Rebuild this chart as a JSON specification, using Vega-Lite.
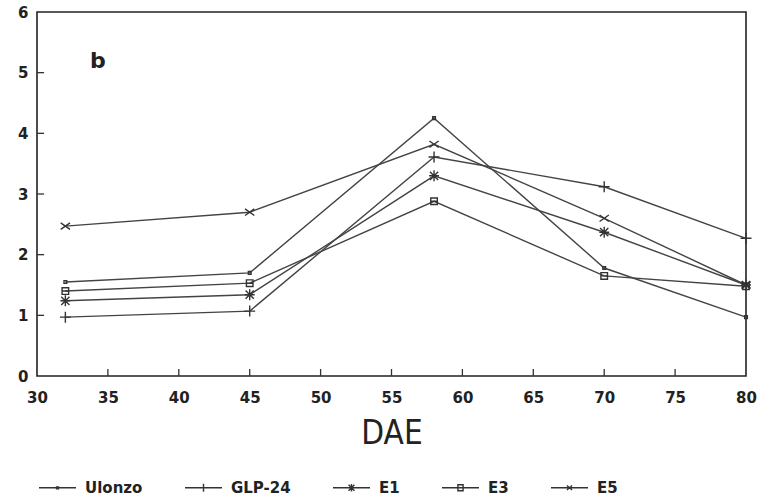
{
  "$schema": "https://vega.github.io/schema/vega-lite/v6.json",
  "width": 709,
  "height": 364,
  "autosize": "none",
  "padding": {"left": 37, "top": 12, "right": 20, "bottom": 122},
  "background": "white",
  "config": {
    "view": {"stroke": "#222", "strokeWidth": 1.6},
    "font": "DejaVu Sans"
  },
  "resolve": {
    "scale": {"shape": "independent"},
    "legend": {"shape": "independent"}
  },
  "datasets": {
    "series": [
      {"DAE": 32, "value": 1.55, "cultivar": "Ulonzo"},
      {"DAE": 45, "value": 1.70, "cultivar": "Ulonzo"},
      {"DAE": 58, "value": 4.25, "cultivar": "Ulonzo"},
      {"DAE": 70, "value": 1.78, "cultivar": "Ulonzo"},
      {"DAE": 80, "value": 0.97, "cultivar": "Ulonzo"},
      {"DAE": 32, "value": 0.97, "cultivar": "GLP-24"},
      {"DAE": 45, "value": 1.07, "cultivar": "GLP-24"},
      {"DAE": 58, "value": 3.61, "cultivar": "GLP-24"},
      {"DAE": 70, "value": 3.12, "cultivar": "GLP-24"},
      {"DAE": 80, "value": 2.27, "cultivar": "GLP-24"},
      {"DAE": 32, "value": 1.24, "cultivar": "E1"},
      {"DAE": 45, "value": 1.34, "cultivar": "E1"},
      {"DAE": 58, "value": 3.30, "cultivar": "E1"},
      {"DAE": 70, "value": 2.37, "cultivar": "E1"},
      {"DAE": 80, "value": 1.50, "cultivar": "E1"},
      {"DAE": 32, "value": 1.40, "cultivar": "E3"},
      {"DAE": 45, "value": 1.53, "cultivar": "E3"},
      {"DAE": 58, "value": 2.88, "cultivar": "E3"},
      {"DAE": 70, "value": 1.65, "cultivar": "E3"},
      {"DAE": 80, "value": 1.48, "cultivar": "E3"},
      {"DAE": 32, "value": 2.47, "cultivar": "E5"},
      {"DAE": 45, "value": 2.70, "cultivar": "E5"},
      {"DAE": 58, "value": 3.82, "cultivar": "E5"},
      {"DAE": 70, "value": 2.60, "cultivar": "E5"},
      {"DAE": 80, "value": 1.50, "cultivar": "E5"}
    ],
    "xticks": [{"t": 35}, {"t": 40}, {"t": 45}, {"t": 50}, {"t": 55}, {"t": 60}, {"t": 65}, {"t": 70}, {"t": 75}],
    "yticks": [{"t": 1}, {"t": 2}, {"t": 3}, {"t": 4}, {"t": 5}],
    "panel": [{"DAE": 34.3, "value": 5.2, "label": "b"}]
  },
  "layer": [
    {
      "data": {"name": "series"},
      "mark": {"type": "line", "stroke": "#444", "strokeWidth": 1.4},
      "encoding": {
        "x": {
          "field": "DAE", "type": "quantitative",
          "scale": {"domain": [30, 80], "nice": false, "zero": false},
          "axis": {
            "values": [30, 35, 40, 45, 50, 55, 60, 65, 70, 75, 80],
            "grid": false, "domain": false, "ticks": false,
            "labelFont": "DejaVu Sans", "labelFontWeight": "bold", "labelFontSize": 15, "labelColor": "#222",
            "labelPadding": 14, "labelFlush": false,
            "title": "DAE", "titleFont": "DejaVu Sans Condensed, Liberation Sans", "titleFontSize": 33, "titleFontWeight": "normal",
            "titleColor": "#222", "titlePadding": 12
          }
        },
        "y": {
          "field": "value", "type": "quantitative",
          "scale": {"domain": [0, 6], "nice": false},
          "axis": {
            "values": [0, 1, 2, 3, 4, 5, 6], "format": "d",
            "grid": false, "domain": false, "ticks": false,
            "labelFont": "DejaVu Sans", "labelFontWeight": "bold", "labelFontSize": 15, "labelColor": "#222",
            "labelPadding": 9, "labelFlush": false,
            "title": null
          }
        },
        "detail": {"field": "cultivar"}
      }
    },
    {
      "data": {"name": "xticks"},
      "mark": {"type": "rule", "stroke": "#333", "strokeWidth": 1.3, "opacity": 1},
      "encoding": {
        "x": {"field": "t", "type": "quantitative"},
        "y": {"datum": 0, "type": "quantitative"},
        "y2": {"datum": 0.115}
      }
    },
    {
      "data": {"name": "yticks"},
      "mark": {"type": "rule", "stroke": "#333", "strokeWidth": 1.3, "opacity": 1},
      "encoding": {
        "y": {"field": "t", "type": "quantitative"},
        "x": {"datum": 30, "type": "quantitative"},
        "x2": {"datum": 30.5}
      }
    },
    {
      "data": {"name": "series"},
      "mark": {"type": "point", "filled": false, "stroke": "#333", "strokeWidth": 1.4, "size": 120, "opacity": 1},
      "encoding": {
        "x": {"field": "DAE", "type": "quantitative"},
        "y": {"field": "value", "type": "quantitative"},
        "shape": {
          "field": "cultivar", "type": "nominal",
          "scale": {
            "domain": ["Ulonzo", "GLP-24", "E1", "E3", "E5"],
            "range": [
              "M-0.25,-0.25L0.25,-0.25L0.25,0.25L-0.25,0.25Z",
              "M-1,0L1,0M0,-1L0,1",
              "M-0.9,0L0.9,0M0,-1L0,1M-0.75,-0.75L0.75,0.75M-0.75,0.75L0.75,-0.75",
              "M-0.6,-0.6L0.6,-0.6L0.6,0.6L-0.6,0.6ZM-0.6,0L0.6,0",
              "M-0.85,-0.6L0.85,0.6M-0.85,0.6L0.85,-0.6"
            ]
          },
          "legend": null
        }
      }
    },
    {
      "data": {"name": "series"},
      "mark": {"type": "point", "filled": false, "stroke": "#333", "strokeWidth": 1.4, "size": 0, "opacity": 0},
      "encoding": {
        "x": {"field": "DAE", "type": "quantitative"},
        "y": {"field": "value", "type": "quantitative"},
        "shape": {
          "field": "cultivar", "type": "nominal",
          "scale": {
            "domain": ["Ulonzo", "GLP-24", "E1", "E3", "E5"],
            "range": [
              "M-1,0L1,0M-0.05,-0.05L0.05,-0.05L0.05,0.05L-0.05,0.05Z",
              "M-1,0L1,0M0,-0.22L0,0.22",
              "M-1,0L1,0M0,-0.2L0,0.2M-0.16,-0.16L0.16,0.16M-0.16,0.16L0.16,-0.16",
              "M-1,0L-0.14,0M0.14,0L1,0M-0.14,-0.16L0.14,-0.16L0.14,0.16L-0.14,0.16ZM-0.14,0L0.14,0",
              "M-1,0L1,0M-0.14,-0.12L0.14,0.12M-0.14,0.12L0.14,-0.12"
            ]
          },
          "legend": {
            "orient": "none",
            "legendX": 1,
            "legendY": 456,
            "direction": "horizontal",
            "title": null,
            "symbolSize": 1369,
            "symbolStrokeColor": "#333",
            "symbolStrokeWidth": 1.4,
            "symbolFillColor": "transparent",
            "symbolOpacity": 1,
            "labelFont": "DejaVu Sans",
            "labelFontWeight": "bold",
            "labelFontSize": 15,
            "labelColor": "#222",
            "labelOffset": 8,
            "columnPadding": 39
          }
        }
      }
    },
    {
      "data": {"name": "panel"},
      "mark": {"type": "text", "font": "DejaVu Sans", "fontWeight": "bold", "fontSize": 22, "color": "#222"},
      "encoding": {
        "x": {"field": "DAE", "type": "quantitative"},
        "y": {"field": "value", "type": "quantitative"},
        "text": {"field": "label"}
      }
    }
  ]
}
